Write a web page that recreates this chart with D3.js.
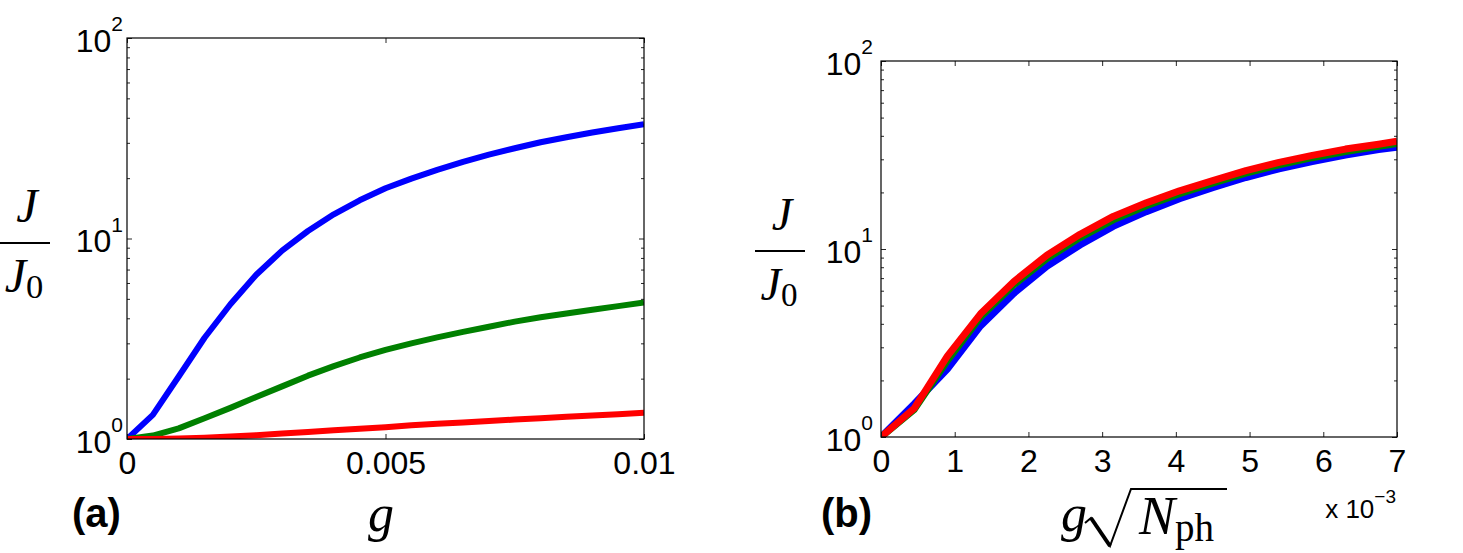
<!DOCTYPE html>
<html><head><meta charset="utf-8">
<script src="https://cdn.jsdelivr.net/npm/d3@7"></script>
<style>body{margin:0;background:#fff}svg{display:block}</style>
</head><body>
<svg id="chart" width="1463" height="553"></svg>
<script>
// ---------- data: panel (a) ----------
const gA = [0, 0.0005, 0.001, 0.0015, 0.002, 0.0025, 0.003, 0.0035, 0.004, 0.0045, 0.005,
            0.0055, 0.006, 0.0065, 0.007, 0.0075, 0.008, 0.0085, 0.009, 0.0095, 0.01];
const blueA  = [1.0, 1.32, 2.05, 3.2, 4.7, 6.6, 8.7, 10.9, 13.2, 15.5, 17.8,
                19.9, 22.0, 24.1, 26.2, 28.2, 30.2, 32.0, 33.8, 35.5, 37.1];
const greenA = [1.0, 1.04, 1.13, 1.27, 1.43, 1.62, 1.83, 2.07, 2.31, 2.55, 2.78,
                3.0, 3.21, 3.42, 3.63, 3.85, 4.05, 4.23, 4.41, 4.6, 4.79];
const redA   = [1.0, 1.0, 1.005, 1.015, 1.03, 1.045, 1.065, 1.085, 1.105, 1.125, 1.145,
                1.17, 1.19, 1.21, 1.23, 1.25, 1.27, 1.29, 1.31, 1.33, 1.35];

// ---------- data: panel (b) (x in units of 1e-3) ----------
const xB = [0, 0.45, 0.9, 1.35, 1.8, 2.25, 2.7, 3.15, 3.6, 4.05, 4.5, 4.95, 5.4, 5.85, 6.3, 6.75, 7.0];
const blueB  = [1.0, 1.50, 2.3, 3.9, 5.8, 8.1, 10.5, 13.2, 15.8, 18.5, 21.2, 24.0, 26.7, 29.2, 31.6, 33.8, 34.8];
const greenB = [1.0, 1.40, 2.55, 4.35, 6.45, 8.9, 11.5, 14.3, 17.0, 19.7, 22.4, 25.3, 28.0, 30.6, 33.0, 35.2, 36.4];
const redB   = [1.0, 1.42, 2.69, 4.52, 6.7, 9.27, 11.97, 14.9, 17.6, 20.4, 23.1, 26.1, 28.9, 31.5, 34.0, 36.1, 37.4];

// ---------- ticks ----------
const aXTicks = [0, 0.005, 0.01];
const aXTickLabels = ["0", "0.005", "0.01"];
const bXTicks = [0, 1, 2, 3, 4, 5, 6, 7];
const bXTickLabels = ["0", "1", "2", "3", "4", "5", "6", "7"];
const yTicks = [1, 10, 100];
const yTickExp = ["0", "1", "2"];
const seriesColors = ["#0000ff", "#008000", "#ff0000"];

const svg = d3.select("#chart");
const SANS = "'Liberation Sans', Arial, Helvetica, sans-serif";
const SERIF = "'Liberation Serif', 'Times New Roman', serif";
const TICKFS = 32;

function panel(cfg) {
  const {L, R, T, B} = cfg;
  const x = d3.scaleLinear().domain(cfg.xDomain).range([L, R]);
  const y = d3.scaleLog().domain([1, 100]).range([B, T]);
  const g = svg.append("g");

  svg.append("clipPath").attr("id", "clip" + cfg.name)
    .append("rect").attr("x", L).attr("y", T).attr("width", R - L).attr("height", B - T);

  const line = d3.line().x(d => x(d[0])).y(d => y(d[1]));
  cfg.series.forEach((vals, i) => {
    g.append("path")
      .attr("clip-path", `url(#clip${cfg.name})`)
      .attr("d", line(d3.zip(cfg.xs, vals)))
      .attr("fill", "none")
      .attr("stroke", seriesColors[i])
      .attr("stroke-width", cfg.lw)
      .attr("stroke-linejoin", "round");
  });

  // ticks (inward)
  const minor = y.ticks().filter(v => !yTicks.includes(v));
  const tickStyle = sel => { sel.select(".domain").remove(); sel.selectAll("line").attr("stroke", "#262626"); };
  g.append("g").attr("transform", `translate(0,${B})`)
    .call(d3.axisBottom(x).tickValues(cfg.xTicks).tickSizeInner(-5).tickSizeOuter(0).tickPadding(12)
      .tickFormat((d, i) => cfg.xLabels[i]))
    .call(tickStyle)
    .call(s => s.selectAll("text").attr("font-family", SANS).attr("font-size", TICKFS).attr("fill", "#000"));
  g.append("g").attr("transform", `translate(0,${T})`)
    .call(d3.axisTop(x).tickValues(cfg.xTicks).tickSizeInner(-5).tickSizeOuter(0).tickFormat(""))
    .call(tickStyle);
  [[d3.axisLeft, L], [d3.axisRight, R]].forEach(([ax, pos]) => {
    g.append("g").attr("transform", `translate(${pos},0)`)
      .call(ax(y).tickValues(yTicks).tickSizeInner(-5).tickSizeOuter(0).tickFormat(""))
      .call(tickStyle);
    g.append("g").attr("transform", `translate(${pos},0)`)
      .call(ax(y).tickValues(minor).tickSizeInner(-3).tickSizeOuter(0).tickFormat(""))
      .call(tickStyle);
  });

  // box
  g.append("rect").attr("x", L).attr("y", T).attr("width", R - L).attr("height", B - T)
    .attr("fill", "none").attr("stroke", "#000").attr("stroke-width", 1.2);

  // y tick labels 10^k
  yTicks.forEach((v, i) => {
    const t = g.append("text").attr("x", L - cfg.ylabGap).attr("y", y(v) + 13.5)
      .attr("text-anchor", "end").attr("font-family", SANS).attr("font-size", TICKFS).attr("fill", "#000");
    t.append("tspan").text("10");
    t.append("tspan").attr("dy", -20.5).attr("font-size", 21).text(yTickExp[i]);
  });

  // y axis label J / J0
  const fx = cfg.fracX, fy = cfg.fracY, fs = cfg.fracSize;
  g.append("text").attr("x", fx + 2).attr("y", fy - 21).attr("text-anchor", "middle")
    .attr("font-family", SERIF).attr("font-style", "italic").attr("font-size", fs).text("J");
  g.append("line").attr("x1", fx - 25).attr("x2", fx + 25).attr("y1", fy).attr("y2", fy)
    .attr("stroke", "#000").attr("stroke-width", 1.8);
  const j0 = g.append("text").attr("x", fx - 1).attr("y", fy + 49).attr("text-anchor", "middle")
    .attr("font-family", SERIF).attr("font-size", fs);
  j0.append("tspan").attr("font-style", "italic").text("J");
  j0.append("tspan").attr("font-size", fs * 0.72).attr("dy", 6).text("0");

  // panel tag
  g.append("text").attr("x", cfg.tagX).attr("y", 527).attr("font-family", SANS)
    .attr("font-weight", "bold").attr("font-size", 40).text(cfg.tag);
  return {x, y, g};
}

const pa = panel({name: "a", L: 127, R: 644, T: 38, B: 439, xDomain: [0, 0.01], xs: gA,
  series: [blueA, greenA, redA], lw: 6, xTicks: aXTicks, xLabels: aXTickLabels,
  ylabGap: 4, fracX: 25, fracY: 243, fracSize: 48, tag: "(a)", tagX: 72});
const pb = panel({name: "b", L: 881, R: 1397, T: 61, B: 437, xDomain: [0, 7], xs: xB,
  series: [blueB, greenB, redB], lw: 7, xTicks: bXTicks, xLabels: bXTickLabels,
  ylabGap: 8, fracX: 780, fracY: 251, fracSize: 46, tag: "(b)", tagX: 821});

// x label (a)
pa.g.append("text").attr("x", 381).attr("y", 531).attr("text-anchor", "middle")
  .attr("font-family", SERIF).attr("font-style", "italic").attr("font-size", 52).text("g");

// x label (b): g sqrt(N_ph)
pb.g.append("text").attr("x", 1061).attr("y", 531)
  .attr("font-family", SERIF).attr("font-style", "italic").attr("font-size", 52).text("g");
pb.g.append("path")
  .attr("d", "M1085,523 L1091,518 L1110,546 L1131,489 L1227,489")
  .attr("fill", "none").attr("stroke", "#000").attr("stroke-width", 2).attr("stroke-linejoin", "miter");
pb.g.append("path")
  .attr("d", "M1091,518 L1110,546")
  .attr("fill", "none").attr("stroke", "#000").attr("stroke-width", 4);
const nph = pb.g.append("text").attr("x", 1139).attr("y", 534).attr("font-family", SERIF).attr("font-size", 54);
nph.append("tspan").attr("font-style", "italic").text("N");
nph.append("tspan").attr("font-size", 39).attr("dy", 7).text("ph");

// x 10^-3 multiplier
const mult = pb.g.append("text").attr("x", 1396).attr("y", 518).attr("text-anchor", "end")
  .attr("font-family", SANS).attr("font-size", 26);
mult.append("tspan").text("x 10");
mult.append("tspan").attr("dy", -15).attr("font-size", 19).text("−3");
</script>
</body></html>
